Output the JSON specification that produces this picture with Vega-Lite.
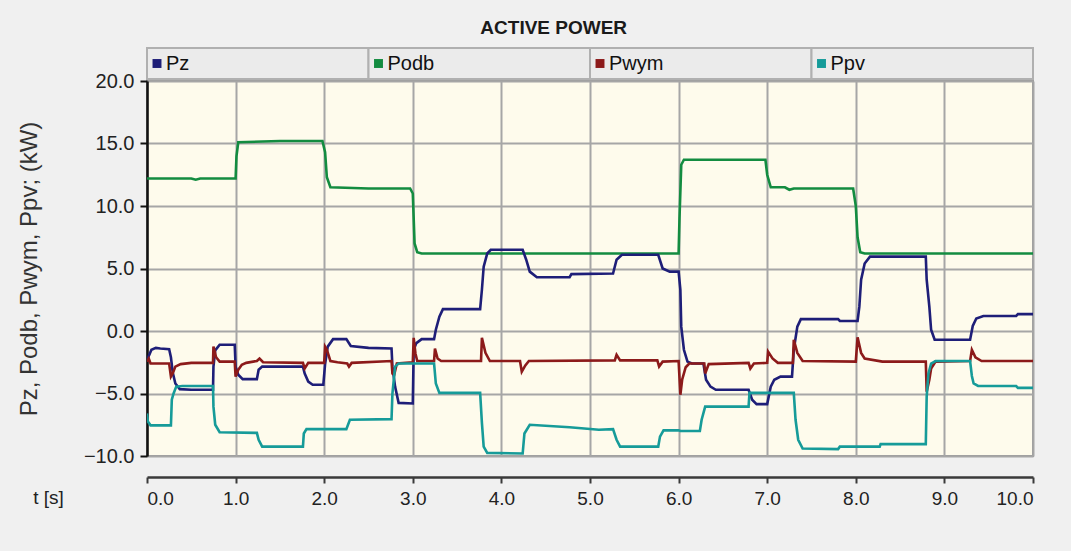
{
  "$schema": "https://vega.github.io/schema/vega-lite/v6.json",
  "background": "#f0f0f0",
  "padding": {"left": 16, "top": 19, "right": 36, "bottom": 52},
  "title": {"text": "ACTIVE POWER", "font": "Liberation Sans", "fontSize": 19, "fontWeight": "bold", "color": "#1a1a1a", "anchor": "middle", "offset": 9, "dx": 28},
  "spacing": 2,
  "bounds": "flush",
  "datasets": {
    "legend": [{"s": "Pz"}, {"s": "Podb"}, {"s": "Pwym"}, {"s": "Ppv"}],
    "series": [
      {"s": "Podb", "t": 0, "v": 12.2}, {"s": "Podb", "t": 0.5, "v": 12.2}, {"s": "Podb", "t": 0.55, "v": 12.1}, {"s": "Podb", "t": 0.6, "v": 12.2}, {"s": "Podb", "t": 1.0, "v": 12.2}, {"s": "Podb", "t": 1.01, "v": 14.0}, {"s": "Podb", "t": 1.03, "v": 15.1}, {"s": "Podb", "t": 1.5, "v": 15.2}, {"s": "Podb", "t": 1.98, "v": 15.2}, {"s": "Podb", "t": 2.01, "v": 14.3}, {"s": "Podb", "t": 2.03, "v": 12.3}, {"s": "Podb", "t": 2.07, "v": 11.5}, {"s": "Podb", "t": 2.5, "v": 11.4}, {"s": "Podb", "t": 2.97, "v": 11.4}, {"s": "Podb", "t": 3.0, "v": 11.0}, {"s": "Podb", "t": 3.02, "v": 7.0}, {"s": "Podb", "t": 3.05, "v": 6.3}, {"s": "Podb", "t": 3.1, "v": 6.2}, {"s": "Podb", "t": 4.5, "v": 6.2}, {"s": "Podb", "t": 6.0, "v": 6.2}, {"s": "Podb", "t": 6.01, "v": 9.0}, {"s": "Podb", "t": 6.03, "v": 13.3}, {"s": "Podb", "t": 6.06, "v": 13.7}, {"s": "Podb", "t": 6.5, "v": 13.7}, {"s": "Podb", "t": 6.98, "v": 13.7}, {"s": "Podb", "t": 7.0, "v": 12.5}, {"s": "Podb", "t": 7.04, "v": 11.5}, {"s": "Podb", "t": 7.2, "v": 11.5}, {"s": "Podb", "t": 7.25, "v": 11.3}, {"s": "Podb", "t": 7.3, "v": 11.4}, {"s": "Podb", "t": 7.97, "v": 11.4}, {"s": "Podb", "t": 8.0, "v": 10.0}, {"s": "Podb", "t": 8.02, "v": 7.5}, {"s": "Podb", "t": 8.05, "v": 6.3}, {"s": "Podb", "t": 8.1, "v": 6.2}, {"s": "Podb", "t": 10, "v": 6.2},

      {"s": "Pz", "t": 0, "v": -2.4}, {"s": "Pz", "t": 0.02, "v": -2.0}, {"s": "Pz", "t": 0.05, "v": -1.5}, {"s": "Pz", "t": 0.1, "v": -1.35}, {"s": "Pz", "t": 0.15, "v": -1.4}, {"s": "Pz", "t": 0.25, "v": -1.45}, {"s": "Pz", "t": 0.27, "v": -2.1}, {"s": "Pz", "t": 0.29, "v": -3.3}, {"s": "Pz", "t": 0.32, "v": -4.2}, {"s": "Pz", "t": 0.37, "v": -4.65}, {"s": "Pz", "t": 0.5, "v": -4.7}, {"s": "Pz", "t": 0.745, "v": -4.7}, {"s": "Pz", "t": 0.75, "v": -2.85}, {"s": "Pz", "t": 0.77, "v": -1.55}, {"s": "Pz", "t": 0.82, "v": -1.1}, {"s": "Pz", "t": 0.99, "v": -1.1}, {"s": "Pz", "t": 1.0, "v": -2.85}, {"s": "Pz", "t": 1.03, "v": -3.5}, {"s": "Pz", "t": 1.08, "v": -3.85}, {"s": "Pz", "t": 1.24, "v": -3.85}, {"s": "Pz", "t": 1.26, "v": -3.1}, {"s": "Pz", "t": 1.3, "v": -2.85}, {"s": "Pz", "t": 1.76, "v": -2.85}, {"s": "Pz", "t": 1.78, "v": -3.4}, {"s": "Pz", "t": 1.82, "v": -4.05}, {"s": "Pz", "t": 1.87, "v": -4.3}, {"s": "Pz", "t": 1.99, "v": -4.3}, {"s": "Pz", "t": 2.01, "v": -2.65}, {"s": "Pz", "t": 2.04, "v": -1.25}, {"s": "Pz", "t": 2.1, "v": -0.65}, {"s": "Pz", "t": 2.25, "v": -0.65}, {"s": "Pz", "t": 2.3, "v": -1.2}, {"s": "Pz", "t": 2.5, "v": -1.35}, {"s": "Pz", "t": 2.76, "v": -1.4}, {"s": "Pz", "t": 2.77, "v": -2.85}, {"s": "Pz", "t": 2.8, "v": -4.45}, {"s": "Pz", "t": 2.84, "v": -5.75}, {"s": "Pz", "t": 3.0, "v": -5.8}, {"s": "Pz", "t": 3.01, "v": -1.5}, {"s": "Pz", "t": 3.04, "v": -0.97}, {"s": "Pz", "t": 3.1, "v": -0.65}, {"s": "Pz", "t": 3.24, "v": -0.65}, {"s": "Pz", "t": 3.26, "v": 0.1}, {"s": "Pz", "t": 3.3, "v": 1.15}, {"s": "Pz", "t": 3.34, "v": 1.75}, {"s": "Pz", "t": 3.76, "v": 1.75}, {"s": "Pz", "t": 3.78, "v": 3.3}, {"s": "Pz", "t": 3.8, "v": 5.15}, {"s": "Pz", "t": 3.84, "v": 6.2}, {"s": "Pz", "t": 3.88, "v": 6.5}, {"s": "Pz", "t": 4.24, "v": 6.5}, {"s": "Pz", "t": 4.28, "v": 5.7}, {"s": "Pz", "t": 4.32, "v": 4.75}, {"s": "Pz", "t": 4.4, "v": 4.3}, {"s": "Pz", "t": 4.77, "v": 4.3}, {"s": "Pz", "t": 4.79, "v": 4.55}, {"s": "Pz", "t": 5.26, "v": 4.6}, {"s": "Pz", "t": 5.3, "v": 5.7}, {"s": "Pz", "t": 5.36, "v": 6.1}, {"s": "Pz", "t": 5.77, "v": 6.1}, {"s": "Pz", "t": 5.82, "v": 5.0}, {"s": "Pz", "t": 5.9, "v": 4.75}, {"s": "Pz", "t": 6.0, "v": 4.75}, {"s": "Pz", "t": 6.02, "v": 3.3}, {"s": "Pz", "t": 6.03, "v": 0.35}, {"s": "Pz", "t": 6.06, "v": -1.5}, {"s": "Pz", "t": 6.1, "v": -2.45}, {"s": "Pz", "t": 6.15, "v": -2.6}, {"s": "Pz", "t": 6.28, "v": -2.6}, {"s": "Pz", "t": 6.31, "v": -3.9}, {"s": "Pz", "t": 6.36, "v": -4.45}, {"s": "Pz", "t": 6.42, "v": -4.7}, {"s": "Pz", "t": 6.79, "v": -4.7}, {"s": "Pz", "t": 6.83, "v": -5.5}, {"s": "Pz", "t": 6.88, "v": -5.85}, {"s": "Pz", "t": 7.0, "v": -5.85}, {"s": "Pz", "t": 7.04, "v": -4.45}, {"s": "Pz", "t": 7.08, "v": -3.9}, {"s": "Pz", "t": 7.15, "v": -3.65}, {"s": "Pz", "t": 7.28, "v": -3.65}, {"s": "Pz", "t": 7.3, "v": -1.5}, {"s": "Pz", "t": 7.34, "v": 0.35}, {"s": "Pz", "t": 7.38, "v": 0.95}, {"s": "Pz", "t": 7.8, "v": 0.95}, {"s": "Pz", "t": 7.82, "v": 0.8}, {"s": "Pz", "t": 8.02, "v": 0.8}, {"s": "Pz", "t": 8.04, "v": 1.95}, {"s": "Pz", "t": 8.06, "v": 4.1}, {"s": "Pz", "t": 8.1, "v": 5.4}, {"s": "Pz", "t": 8.16, "v": 5.95}, {"s": "Pz", "t": 8.79, "v": 5.95}, {"s": "Pz", "t": 8.8, "v": 4.1}, {"s": "Pz", "t": 8.83, "v": 1.95}, {"s": "Pz", "t": 8.85, "v": 0.1}, {"s": "Pz", "t": 8.89, "v": -0.7}, {"s": "Pz", "t": 9.29, "v": -0.7}, {"s": "Pz", "t": 9.32, "v": 0.4}, {"s": "Pz", "t": 9.36, "v": 1.0}, {"s": "Pz", "t": 9.44, "v": 1.2}, {"s": "Pz", "t": 9.81, "v": 1.2}, {"s": "Pz", "t": 9.83, "v": 1.35}, {"s": "Pz", "t": 10, "v": 1.35},

      {"s": "Pwym", "t": 0, "v": -2.45}, {"s": "Pwym", "t": 0.02, "v": -2.2}, {"s": "Pwym", "t": 0.04, "v": -2.6}, {"s": "Pwym", "t": 0.25, "v": -2.6}, {"s": "Pwym", "t": 0.27, "v": -3.65}, {"s": "Pwym", "t": 0.29, "v": -3.4}, {"s": "Pwym", "t": 0.32, "v": -2.85}, {"s": "Pwym", "t": 0.38, "v": -2.65}, {"s": "Pwym", "t": 0.5, "v": -2.55}, {"s": "Pwym", "t": 0.745, "v": -2.55}, {"s": "Pwym", "t": 0.75, "v": -1.25}, {"s": "Pwym", "t": 0.78, "v": -2.1}, {"s": "Pwym", "t": 0.82, "v": -2.45}, {"s": "Pwym", "t": 0.99, "v": -2.45}, {"s": "Pwym", "t": 1.0, "v": -3.65}, {"s": "Pwym", "t": 1.03, "v": -3.1}, {"s": "Pwym", "t": 1.07, "v": -2.7}, {"s": "Pwym", "t": 1.12, "v": -2.55}, {"s": "Pwym", "t": 1.24, "v": -2.4}, {"s": "Pwym", "t": 1.27, "v": -2.2}, {"s": "Pwym", "t": 1.31, "v": -2.5}, {"s": "Pwym", "t": 1.76, "v": -2.55}, {"s": "Pwym", "t": 1.78, "v": -3.0}, {"s": "Pwym", "t": 1.82, "v": -2.55}, {"s": "Pwym", "t": 2.0, "v": -2.55}, {"s": "Pwym", "t": 2.01, "v": -1.25}, {"s": "Pwym", "t": 2.03, "v": -1.5}, {"s": "Pwym", "t": 2.07, "v": -2.4}, {"s": "Pwym", "t": 2.15, "v": -2.5}, {"s": "Pwym", "t": 2.26, "v": -2.6}, {"s": "Pwym", "t": 2.28, "v": -2.85}, {"s": "Pwym", "t": 2.31, "v": -2.55}, {"s": "Pwym", "t": 2.76, "v": -2.4}, {"s": "Pwym", "t": 2.77, "v": -3.4}, {"s": "Pwym", "t": 2.79, "v": -3.5}, {"s": "Pwym", "t": 2.82, "v": -2.6}, {"s": "Pwym", "t": 3.0, "v": -2.5}, {"s": "Pwym", "t": 3.01, "v": -0.55}, {"s": "Pwym", "t": 3.03, "v": -1.8}, {"s": "Pwym", "t": 3.05, "v": -2.4}, {"s": "Pwym", "t": 3.24, "v": -2.4}, {"s": "Pwym", "t": 3.25, "v": -1.4}, {"s": "Pwym", "t": 3.28, "v": -2.2}, {"s": "Pwym", "t": 3.32, "v": -2.4}, {"s": "Pwym", "t": 3.77, "v": -2.4}, {"s": "Pwym", "t": 3.78, "v": -0.55}, {"s": "Pwym", "t": 3.82, "v": -1.75}, {"s": "Pwym", "t": 3.87, "v": -2.4}, {"s": "Pwym", "t": 4.21, "v": -2.4}, {"s": "Pwym", "t": 4.23, "v": -3.25}, {"s": "Pwym", "t": 4.27, "v": -2.75}, {"s": "Pwym", "t": 4.31, "v": -2.4}, {"s": "Pwym", "t": 5.28, "v": -2.35}, {"s": "Pwym", "t": 5.3, "v": -1.9}, {"s": "Pwym", "t": 5.34, "v": -2.35}, {"s": "Pwym", "t": 5.76, "v": -2.35}, {"s": "Pwym", "t": 5.78, "v": -2.85}, {"s": "Pwym", "t": 5.82, "v": -2.45}, {"s": "Pwym", "t": 6.0, "v": -2.4}, {"s": "Pwym", "t": 6.02, "v": -5.1}, {"s": "Pwym", "t": 6.04, "v": -3.9}, {"s": "Pwym", "t": 6.08, "v": -2.9}, {"s": "Pwym", "t": 6.12, "v": -2.6}, {"s": "Pwym", "t": 6.29, "v": -2.6}, {"s": "Pwym", "t": 6.3, "v": -3.4}, {"s": "Pwym", "t": 6.34, "v": -2.65}, {"s": "Pwym", "t": 6.79, "v": -2.55}, {"s": "Pwym", "t": 6.81, "v": -3.0}, {"s": "Pwym", "t": 6.85, "v": -2.6}, {"s": "Pwym", "t": 7.0, "v": -2.55}, {"s": "Pwym", "t": 7.01, "v": -1.65}, {"s": "Pwym", "t": 7.06, "v": -2.2}, {"s": "Pwym", "t": 7.12, "v": -2.55}, {"s": "Pwym", "t": 7.29, "v": -2.55}, {"s": "Pwym", "t": 7.3, "v": -0.7}, {"s": "Pwym", "t": 7.34, "v": -1.75}, {"s": "Pwym", "t": 7.4, "v": -2.4}, {"s": "Pwym", "t": 8.0, "v": -2.45}, {"s": "Pwym", "t": 8.02, "v": -0.5}, {"s": "Pwym", "t": 8.06, "v": -1.75}, {"s": "Pwym", "t": 8.1, "v": -2.2}, {"s": "Pwym", "t": 8.3, "v": -2.45}, {"s": "Pwym", "t": 8.79, "v": -2.45}, {"s": "Pwym", "t": 8.8, "v": -4.85}, {"s": "Pwym", "t": 8.83, "v": -3.9}, {"s": "Pwym", "t": 8.85, "v": -3.0}, {"s": "Pwym", "t": 8.9, "v": -2.45}, {"s": "Pwym", "t": 9.29, "v": -2.4}, {"s": "Pwym", "t": 9.31, "v": -1.5}, {"s": "Pwym", "t": 9.35, "v": -2.1}, {"s": "Pwym", "t": 9.42, "v": -2.4}, {"s": "Pwym", "t": 10, "v": -2.4},

      {"s": "Ppv", "t": 0, "v": -6.6}, {"s": "Ppv", "t": 0.01, "v": -7.25}, {"s": "Ppv", "t": 0.04, "v": -7.55}, {"s": "Ppv", "t": 0.27, "v": -7.55}, {"s": "Ppv", "t": 0.28, "v": -5.5}, {"s": "Ppv", "t": 0.3, "v": -5.0}, {"s": "Ppv", "t": 0.33, "v": -4.45}, {"s": "Ppv", "t": 0.4, "v": -4.4}, {"s": "Ppv", "t": 0.745, "v": -4.4}, {"s": "Ppv", "t": 0.75, "v": -6.05}, {"s": "Ppv", "t": 0.77, "v": -7.5}, {"s": "Ppv", "t": 0.82, "v": -8.1}, {"s": "Ppv", "t": 1.24, "v": -8.15}, {"s": "Ppv", "t": 1.26, "v": -8.7}, {"s": "Ppv", "t": 1.3, "v": -9.25}, {"s": "Ppv", "t": 1.76, "v": -9.25}, {"s": "Ppv", "t": 1.77, "v": -8.2}, {"s": "Ppv", "t": 1.8, "v": -7.85}, {"s": "Ppv", "t": 2.25, "v": -7.85}, {"s": "Ppv", "t": 2.29, "v": -7.1}, {"s": "Ppv", "t": 2.76, "v": -7.05}, {"s": "Ppv", "t": 2.77, "v": -5.0}, {"s": "Ppv", "t": 2.8, "v": -2.85}, {"s": "Ppv", "t": 2.84, "v": -2.6}, {"s": "Ppv", "t": 3.24, "v": -2.6}, {"s": "Ppv", "t": 3.26, "v": -4.2}, {"s": "Ppv", "t": 3.3, "v": -4.95}, {"s": "Ppv", "t": 3.76, "v": -4.95}, {"s": "Ppv", "t": 3.78, "v": -7.35}, {"s": "Ppv", "t": 3.8, "v": -9.25}, {"s": "Ppv", "t": 3.84, "v": -9.75}, {"s": "Ppv", "t": 4.24, "v": -9.8}, {"s": "Ppv", "t": 4.26, "v": -8.2}, {"s": "Ppv", "t": 4.32, "v": -7.5}, {"s": "Ppv", "t": 4.77, "v": -7.7}, {"s": "Ppv", "t": 5.1, "v": -7.9}, {"s": "Ppv", "t": 5.26, "v": -7.85}, {"s": "Ppv", "t": 5.3, "v": -8.7}, {"s": "Ppv", "t": 5.34, "v": -9.25}, {"s": "Ppv", "t": 5.77, "v": -9.25}, {"s": "Ppv", "t": 5.79, "v": -8.45}, {"s": "Ppv", "t": 5.83, "v": -7.95}, {"s": "Ppv", "t": 6.0, "v": -7.95}, {"s": "Ppv", "t": 6.02, "v": -8.0}, {"s": "Ppv", "t": 6.24, "v": -8.0}, {"s": "Ppv", "t": 6.26, "v": -7.1}, {"s": "Ppv", "t": 6.3, "v": -6.05}, {"s": "Ppv", "t": 6.79, "v": -6.05}, {"s": "Ppv", "t": 6.8, "v": -4.95}, {"s": "Ppv", "t": 7.3, "v": -4.95}, {"s": "Ppv", "t": 7.32, "v": -7.1}, {"s": "Ppv", "t": 7.35, "v": -8.7}, {"s": "Ppv", "t": 7.4, "v": -9.4}, {"s": "Ppv", "t": 7.8, "v": -9.45}, {"s": "Ppv", "t": 7.82, "v": -9.25}, {"s": "Ppv", "t": 8.27, "v": -9.25}, {"s": "Ppv", "t": 8.28, "v": -9.05}, {"s": "Ppv", "t": 8.79, "v": -9.05}, {"s": "Ppv", "t": 8.8, "v": -5.25}, {"s": "Ppv", "t": 8.82, "v": -3.4}, {"s": "Ppv", "t": 8.85, "v": -2.6}, {"s": "Ppv", "t": 8.9, "v": -2.4}, {"s": "Ppv", "t": 9.29, "v": -2.4}, {"s": "Ppv", "t": 9.31, "v": -3.6}, {"s": "Ppv", "t": 9.33, "v": -4.2}, {"s": "Ppv", "t": 9.38, "v": -4.4}, {"s": "Ppv", "t": 9.81, "v": -4.4}, {"s": "Ppv", "t": 9.83, "v": -4.55}, {"s": "Ppv", "t": 10, "v": -4.55}
    ]
  },
  "vconcat": [
    {
      "width": 886,
      "height": 31,
      "data": {"name": "legend"},
      "view": {"fill": "#ebebeb", "stroke": null},
      "layer": [
        {
          "mark": {"type": "rect", "fill": "#ebebeb", "stroke": "#b0b0b0", "strokeWidth": 2},
          "encoding": {
            "x": {"field": "s", "type": "nominal", "scale": {"domain": ["Pz", "Podb", "Pwym", "Ppv"], "paddingInner": 0, "paddingOuter": 0}, "axis": null}
          }
        },
        {
          "mark": {"type": "point", "shape": "square", "filled": true, "size": 80, "opacity": 1, "xOffset": 10},
          "encoding": {
            "x": {"field": "s", "type": "nominal", "bandPosition": 0, "axis": null},
            "color": {"field": "s", "type": "nominal", "scale": {"domain": ["Pz", "Podb", "Pwym", "Ppv"], "range": ["#1e1e78", "#138c40", "#8c1a1a", "#169b99"]}, "legend": null}
          }
        },
        {
          "mark": {"type": "text", "align": "left", "baseline": "middle", "dx": 19, "font": "Liberation Sans", "fontSize": 20, "color": "#111111"},
          "encoding": {
            "x": {"field": "s", "type": "nominal", "bandPosition": 0, "axis": null},
            "text": {"field": "s"}
          }
        }
      ]
    },
    {
      "width": 886,
      "height": 375,
      "data": {"name": "series"},
      "view": {"fill": "#fefbec", "stroke": "#9c9c9c", "strokeWidth": 2},
      "mark": {"type": "line", "strokeWidth": 2.6, "clip": true},
      "encoding": {
        "x": {
          "field": "t", "type": "quantitative",
          "scale": {"domain": [0, 10], "nice": false, "zero": false},
          "axis": {
            "values": [0, 1, 2, 3, 4, 5, 6, 7, 8, 9, 10], "format": ".1f", "offset": 21,
            "grid": true, "gridColor": "#a6a6a6", "gridWidth": 2,
            "domainColor": "#3a3a3a", "domainWidth": 2.5, "tickColor": "#3a3a3a", "tickWidth": 2, "tickSize": 6,
            "labelFont": "Liberation Sans", "labelFontSize": 19, "labelColor": "#222222", "labelPadding": 6,
            "title": "t [s]", "titleFont": "Liberation Sans", "titleFontSize": 19, "titleFontWeight": "normal", "titleColor": "#222222",
            "titleX": -99, "titleY": 20, "titleAlign": "center", "titleBaseline": "middle", "titleAngle": 0
          }
        },
        "y": {
          "field": "v", "type": "quantitative",
          "scale": {"domain": [-10, 20], "nice": false, "zero": false},
          "axis": {
            "values": [-10, -5, 0, 5, 10, 15, 20], "format": ".1f",
            "grid": true, "gridColor": "#a6a6a6", "gridWidth": 2,
            "domainColor": "#111111", "domainWidth": 2.5, "tickColor": "#111111", "tickWidth": 2, "tickSize": 7,
            "labelFont": "Liberation Sans", "labelFontSize": 20, "labelColor": "#222222", "labelPadding": 6,
            "title": "Pz, Podb, Pwym, Ppv; (kW)", "titleFont": "Liberation Sans", "titleFontSize": 24, "titleFontWeight": "normal", "titleColor": "#333333", "titlePadding": 42
          }
        },
        "color": {"field": "s", "type": "nominal", "scale": {"domain": ["Pz", "Podb", "Pwym", "Ppv"], "range": ["#1e1e78", "#138c40", "#8c1a1a", "#169b99"]}, "legend": null}
      }
    }
  ]
}
